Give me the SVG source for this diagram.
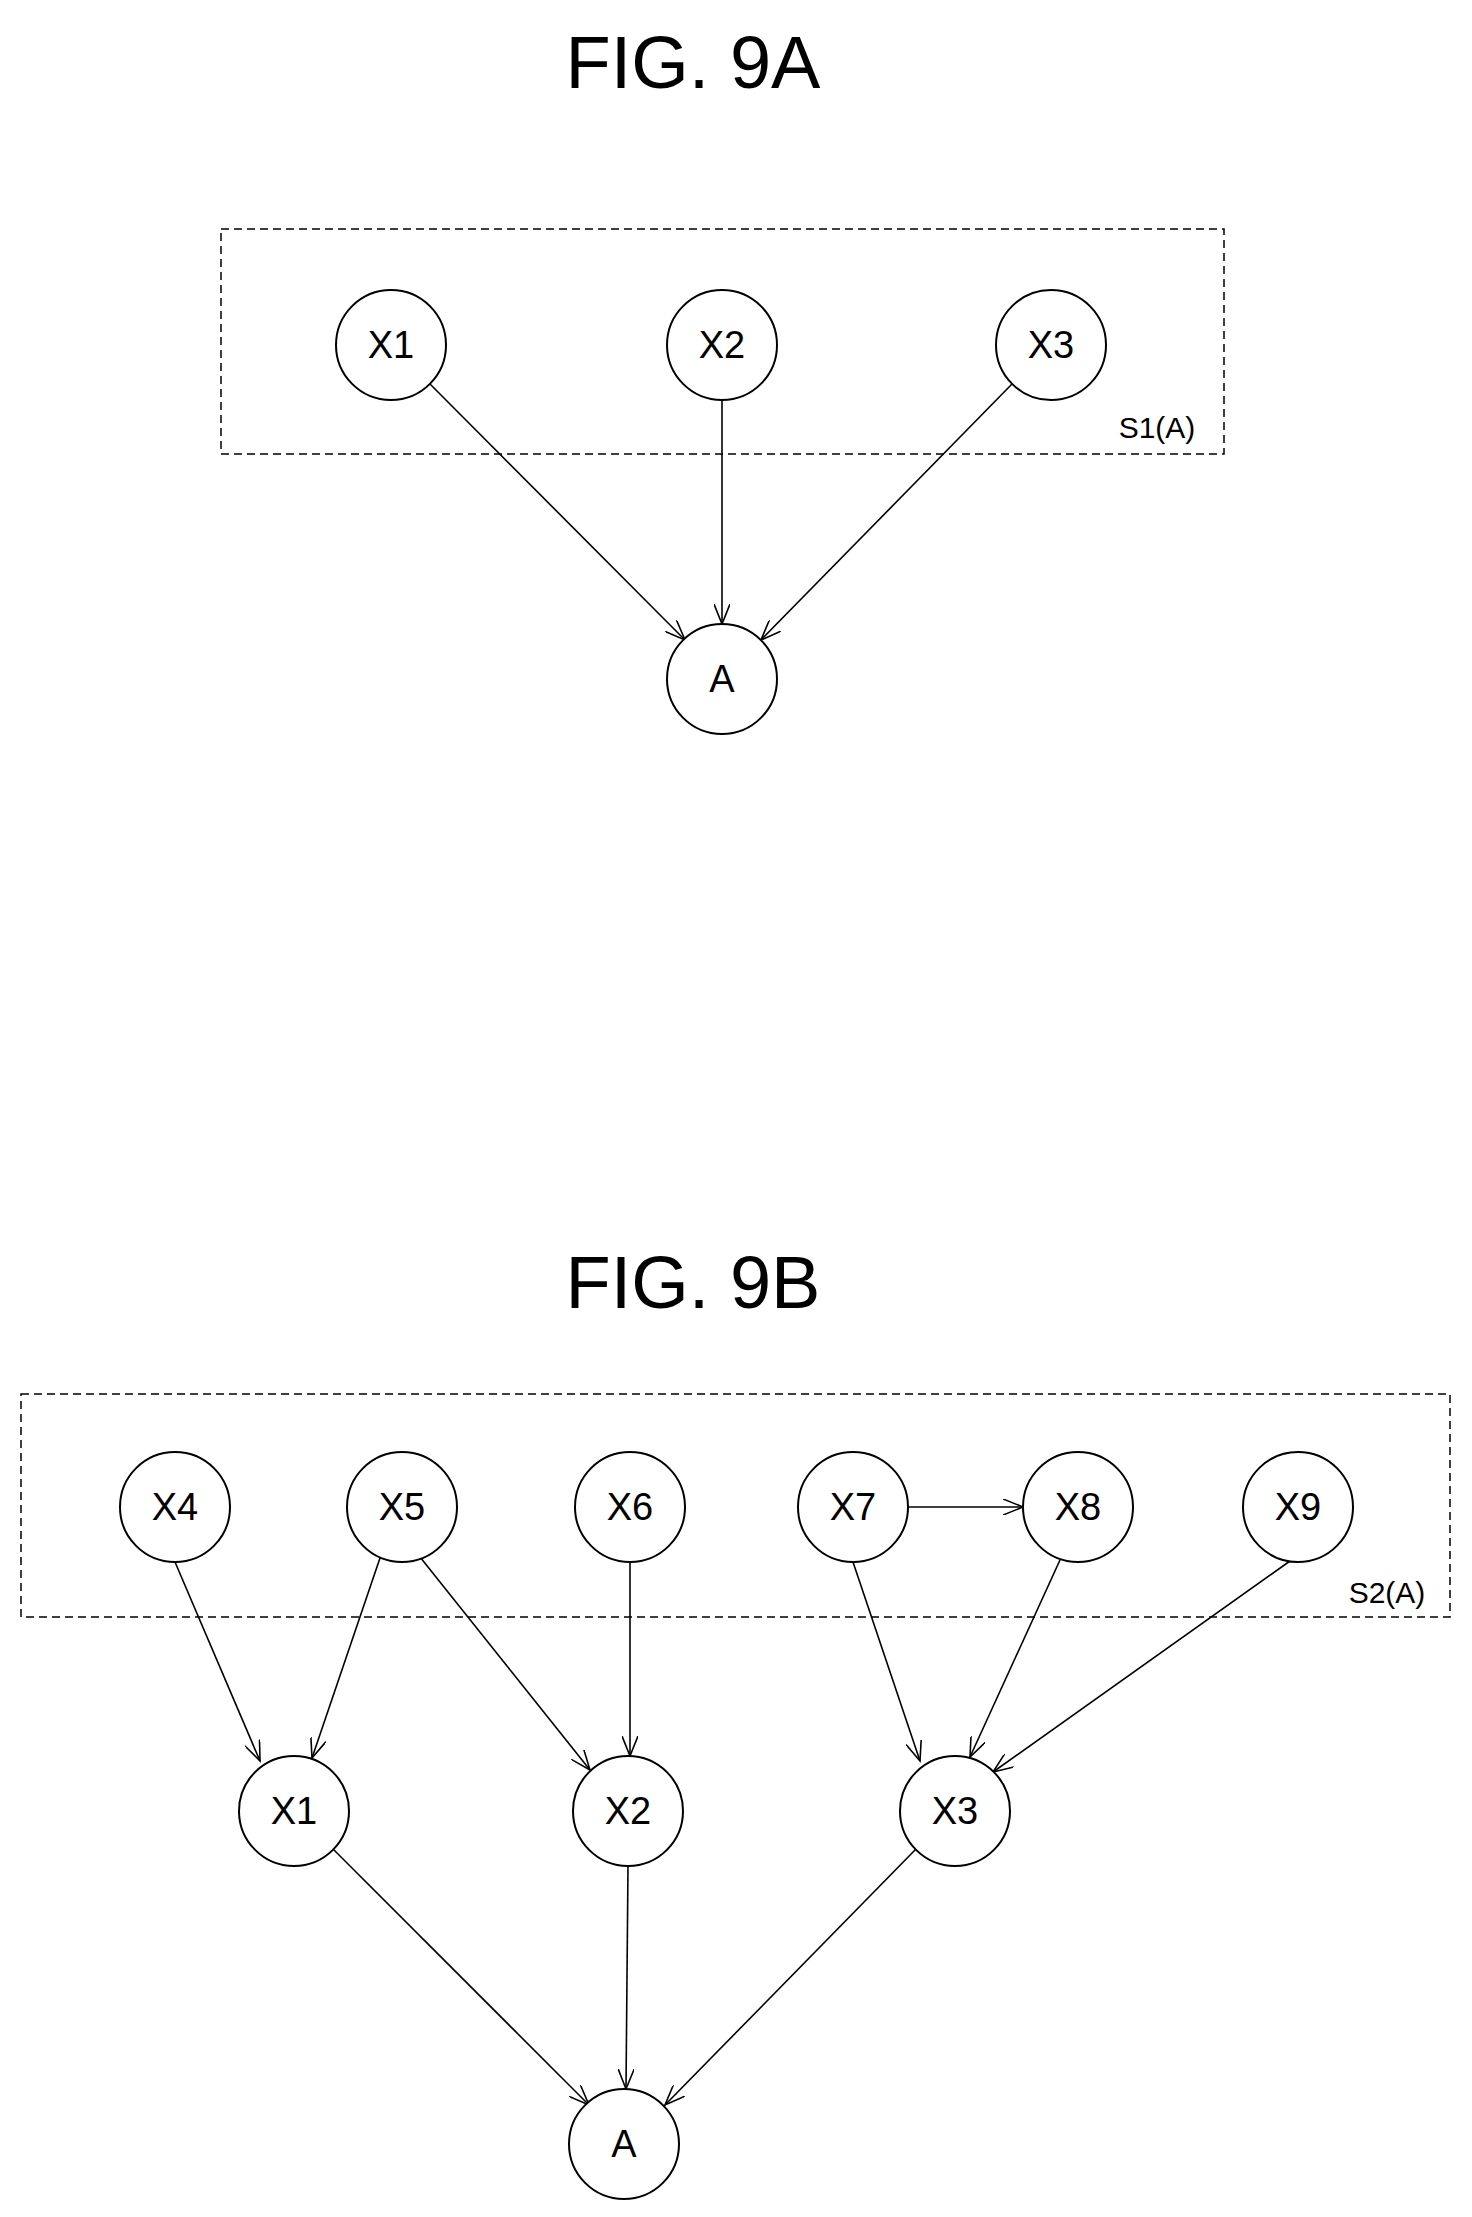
<svg xmlns="http://www.w3.org/2000/svg" width="1472" height="2217" viewBox="0 0 1472 2217">
<style>
.n{fill:#fff;stroke:#000;stroke-width:2}
.t{font-family:"Liberation Sans",Arial,sans-serif;font-size:38px;text-anchor:middle;dominant-baseline:central}
.ti{font-family:"Liberation Sans",Arial,sans-serif;font-size:74px;text-anchor:middle}
.s{font-family:"Liberation Sans",Arial,sans-serif;font-size:30px;text-anchor:middle}
.box{fill:none;stroke:#000;stroke-width:1.5;stroke-dasharray:8 5}
.e{stroke:#000;stroke-width:1.6;fill:none;marker-end:url(#ar)}
</style>
<defs><marker id="ar" markerWidth="22" markerHeight="16" refX="20" refY="8" orient="auto" markerUnits="userSpaceOnUse"><path d="M0,0 L20,8 L0,16" fill="none" stroke="#000" stroke-width="1.6"/></marker></defs>
<rect width="1472" height="2217" fill="#fff"/>
<text class="ti" x="693" y="88">FIG. 9A</text>
<rect class="box" x="221" y="229" width="1003" height="225"/>
<text class="s" x="1157" y="438">S1(A)</text>
<g id="connectors-a">
<line class="e" x1="430" y1="384" x2="685" y2="640"/>
<line class="e" x1="722" y1="400" x2="722" y2="624"/>
<line class="e" x1="1012" y1="384" x2="761" y2="640"/>
</g>
<g id="a-X1"><circle class="n" cx="391" cy="345" r="55"/><text class="t" x="391" y="345">X1</text></g>
<g id="a-X2"><circle class="n" cx="722" cy="345" r="55"/><text class="t" x="722" y="345">X2</text></g>
<g id="a-X3"><circle class="n" cx="1051" cy="345" r="55"/><text class="t" x="1051" y="345">X3</text></g>
<g id="a-A"><circle class="n" cx="722" cy="679" r="55"/><text class="t" x="722" y="679">A</text></g>

<text class="ti" x="693" y="1308">FIG. 9B</text>
<rect class="box" x="21" y="1394" width="1429" height="223"/>
<text class="s" x="1387" y="1603">S2(A)</text>
<g id="connectors-b">
<line class="e" x1="175" y1="1562" x2="260" y2="1761"/>
<line class="e" x1="380" y1="1558" x2="312" y2="1758"/>
<line class="e" x1="420" y1="1557" x2="590" y2="1770"/>
<line class="e" x1="630" y1="1562" x2="630" y2="1756"/>
<line class="e" x1="908" y1="1507" x2="1023" y2="1507"/>
<line class="e" x1="853" y1="1562" x2="920" y2="1761"/>
<line class="e" x1="1060" y1="1560" x2="970" y2="1757"/>
<line class="e" x1="1290" y1="1561" x2="993" y2="1772"/>
<line class="e" x1="333" y1="1849" x2="589" y2="2105"/>
<line class="e" x1="628" y1="1866" x2="626" y2="2089"/>
<line class="e" x1="916" y1="1849" x2="665" y2="2105"/>
</g>
<g id="b-X4"><circle class="n" cx="175" cy="1507" r="55"/><text class="t" x="175" y="1507">X4</text></g>
<g id="b-X5"><circle class="n" cx="402" cy="1507" r="55"/><text class="t" x="402" y="1507">X5</text></g>
<g id="b-X6"><circle class="n" cx="630" cy="1507" r="55"/><text class="t" x="630" y="1507">X6</text></g>
<g id="b-X7"><circle class="n" cx="853" cy="1507" r="55"/><text class="t" x="853" y="1507">X7</text></g>
<g id="b-X8"><circle class="n" cx="1078" cy="1507" r="55"/><text class="t" x="1078" y="1507">X8</text></g>
<g id="b-X9"><circle class="n" cx="1298" cy="1507" r="55"/><text class="t" x="1298" y="1507">X9</text></g>
<g id="b-X1"><circle class="n" cx="294" cy="1811" r="55"/><text class="t" x="294" y="1811">X1</text></g>
<g id="b-X2"><circle class="n" cx="628" cy="1811" r="55"/><text class="t" x="628" y="1811">X2</text></g>
<g id="b-X3"><circle class="n" cx="955" cy="1811" r="55"/><text class="t" x="955" y="1811">X3</text></g>
<g id="b-A"><circle class="n" cx="624" cy="2144" r="55"/><text class="t" x="624" y="2144">A</text></g>
</svg>
